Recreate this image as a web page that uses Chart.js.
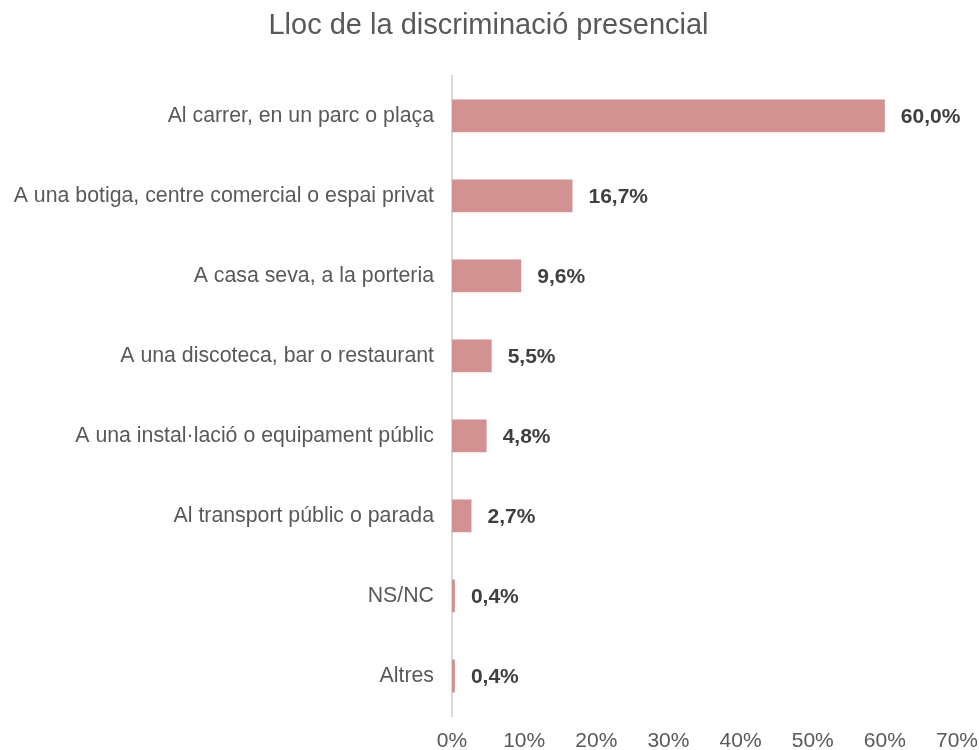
<!DOCTYPE html>
<html>
<head>
<meta charset="utf-8">
<script src="https://cdn.jsdelivr.net/npm/chart.js@4"></script>
<style>
  html, body { margin: 0; padding: 0; background: #fff; }
  #wrap { width: 979px; height: 750px; }
</style>
</head>
<body>
<div id="wrap"><canvas id="myChart"></canvas></div>
<script>
// Data
const categories = [
  "Al carrer, en un parc o plaça",
  "A una botiga, centre comercial o espai privat",
  "A casa seva, a la porteria",
  "A una discoteca, bar o restaurant",
  "A una instal·lació o equipament públic",
  "Al transport públic o parada",
  "NS/NC",
  "Altres"
];
const values = [60.0, 16.7, 9.6, 5.5, 4.8, 2.7, 0.4, 0.4];
const tickValues = [0, 10, 20, 30, 40, 50, 60, 70];

const fontFamily = "'Liberation Sans', Arial, sans-serif";

// Draw value labels at the end of each bar
const valueLabels = {
  id: "valueLabels",
  afterDatasetsDraw(chart) {
    const ctx = chart.ctx;
    const meta = chart.getDatasetMeta(0);
    ctx.save();
    ctx.font = "bold 21px " + fontFamily;
    ctx.fillStyle = "#404040";
    ctx.textAlign = "left";
    ctx.textBaseline = "middle";
    meta.data.forEach((bar, i) => {
      const txt = values[i].toFixed(1).replace(".", ",") + "%";
      ctx.fillText(txt, bar.x + 16, bar.y + 1);
    });
    ctx.restore();
  }
};

document.addEventListener("DOMContentLoaded", () => {
  const ctx = document.getElementById("myChart").getContext("2d");
  new Chart(ctx, {
    type: "bar",
    data: {
      labels: categories,
      datasets: [{
        data: values,
        backgroundColor: "#d39292",
        borderWidth: 0,
        barPercentage: 0.41,
        categoryPercentage: 1
      }]
    },
    options: {
      indexAxis: "y",
      responsive: true,
      maintainAspectRatio: false,
      animation: false,
      layout: { padding: { top: 9, right: 2, left: 0, bottom: 0 } },
      plugins: {
        legend: { display: false },
        tooltip: { enabled: false },
        title: {
          display: true,
          text: "Lloc de la discriminació presencial",
          color: "#595959",
          font: { family: fontFamily, size: 29, weight: "normal" },
          padding: { top: 0, bottom: 32 }
        }
      },
      scales: {
        x: {
          min: 0,
          max: 70,
          afterBuildTicks: (s) => { s.ticks = tickValues.map(v => ({ value: v })); },
          grid: { display: false, drawTicks: false },
          border: { display: false },
          ticks: {
            color: "#595959",
            font: { family: fontFamily, size: 21 },
            padding: 13,
            callback: (v) => v + "%"
          },
          afterFit: (s) => { s.height = 34; s.paddingRight = 22; s.paddingLeft = 0; }
        },
        y: {
          grid: { display: false, drawTicks: false },
          border: { display: true, color: "#d9d9d9", width: 2 },
          ticks: {
            color: "#595959",
            font: { family: fontFamily, size: 21.3 },
            padding: 18
          },
          afterFit: (s) => { s.width = 452; }
        }
      }
    },
    plugins: [valueLabels]
  });
});
</script>
</body>
</html>
